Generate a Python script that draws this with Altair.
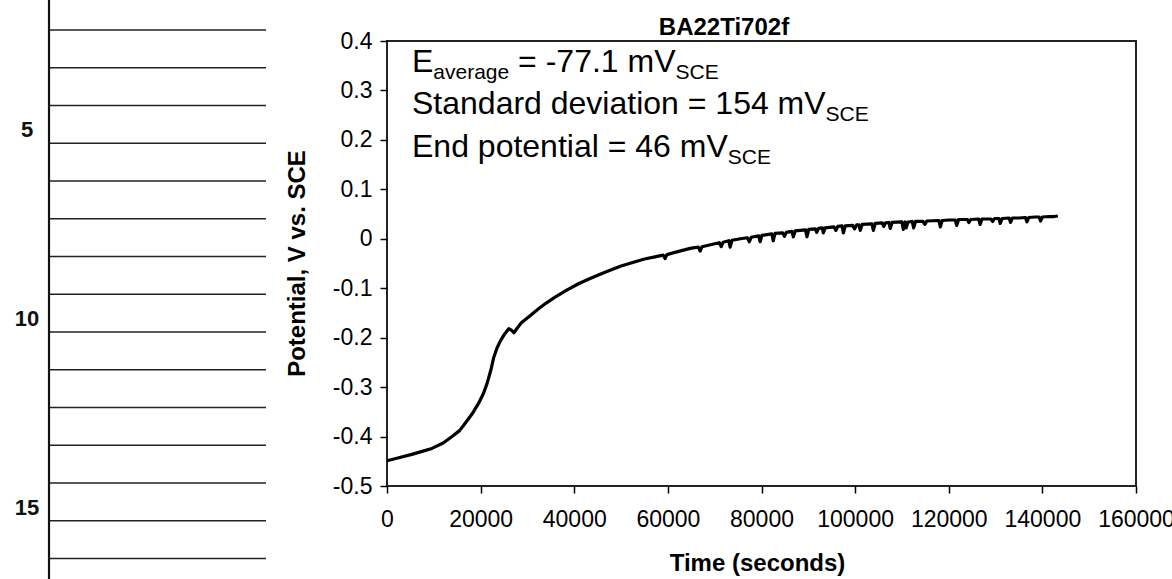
import altair as alt
import pandas as pd

# ---------------- data ----------------
time_s = [
    0, 2500, 5300, 7500, 9600, 12000, 13900, 15500, 16700, 18200,
    19600, 20600, 21400, 22200, 22800, 23500, 24200, 25100, 26000, 26600,
    27100, 27800, 28700, 30500, 32300, 34000, 35900, 38400, 40900, 43500,
    46700, 50000, 52500, 55000, 57500, 59000, 59400, 59800, 62500, 65000,
    66500, 66900, 67300, 70000, 71000, 71400, 71800, 73000, 73300, 73700,
    75500, 77000, 77400, 77800, 79400, 79700, 80100, 82200, 82500, 82900,
    84500, 84900, 85300, 86500, 86800, 87200, 89400, 89700, 90100, 91500,
    91800, 92200, 93000, 93200, 93600, 95500, 95900, 96300, 97200, 97500,
    97900, 99500, 99900, 100300, 100800, 101100, 101500, 103600, 103900, 104300,
    105800, 106100, 106500, 107200, 107500, 107900, 110000, 110300, 110700, 110900,
    111300, 112200, 112500, 112900, 114500, 114900, 115300, 117900, 118200, 118600,
    120000, 121400, 121700, 122100, 124000, 124300, 124700, 126400, 126700, 127100,
    129000, 129400, 129800, 130700, 131000, 131400, 132900, 133200, 133600, 135000,
    136400, 136700, 137100, 138500, 139300, 139600, 140000, 141500, 142500, 143300,
]
potential_v = [
    -0.449, -0.443, -0.436, -0.430, -0.424, -0.413, -0.400, -0.388, -0.373, -0.354,
    -0.332, -0.313, -0.292, -0.265, -0.240, -0.221, -0.207, -0.193, -0.182, -0.185,
    -0.190, -0.181, -0.170, -0.156, -0.142, -0.130, -0.118, -0.104, -0.091, -0.080,
    -0.067, -0.055, -0.048, -0.041, -0.036, -0.033, -0.040, -0.032, -0.025, -0.019,
    -0.017, -0.025, -0.016, -0.010, -0.008, -0.016, -0.007, -0.004, -0.017, -0.003,
    0.000, 0.002, -0.006, 0.003, 0.006, -0.006, 0.007, 0.010, -0.004, 0.011,
    0.012, 0.005, 0.013, 0.015, 0.004, 0.016, 0.018, 0.004, 0.019, 0.020,
    0.013, 0.021, 0.022, 0.012, 0.022, 0.024, 0.017, 0.025, 0.026, 0.012,
    0.026, 0.027, 0.020, 0.028, 0.028, 0.017, 0.029, 0.030, 0.017, 0.031,
    0.032, 0.025, 0.032, 0.033, 0.021, 0.033, 0.034, 0.019, 0.034, 0.022,
    0.034, 0.035, 0.022, 0.035, 0.035, 0.029, 0.036, 0.037, 0.024, 0.037,
    0.038, 0.038, 0.027, 0.039, 0.039, 0.033, 0.039, 0.040, 0.029, 0.040,
    0.040, 0.035, 0.041, 0.041, 0.031, 0.041, 0.042, 0.033, 0.042, 0.042,
    0.043, 0.034, 0.043, 0.044, 0.044, 0.036, 0.044, 0.045, 0.045, 0.046,
]

x_ticks = [0, 20000, 40000, 60000, 80000, 100000, 120000, 140000, 160000]
y_ticks = [-0.5, -0.4, -0.3, -0.2, -0.1, 0.0, 0.1, 0.2, 0.3, 0.4]

chart_title = "BA22Ti702f"
x_title = "Time (seconds)"
y_title = "Potential, V vs. SCE"

# annotation lines: (segment text, is_subscript)
annotation_lines = [
    [("E", False), ("average", True), (" = -77.1 mV", False), ("SCE", True)],
    [("Standard deviation = 154 mV", False), ("SCE", True)],
    [("End potential = 46 mV", False), ("SCE", True)],
]

# notebook margin of the scanned page
rule_numbers = list(range(2, 17))
margin_numbers = [5, 10, 15]

# ---------------- layout ----------------
FONT = "Liberation Sans"
PAD_L, PAD_T = 387, 41
W, H = 749, 445
MAIN_SIZE, SUB_SIZE = 32, 21

ARIAL = {'E': 667, 'a': 556, 'v': 500, 'e': 556, 'r': 333, 'g': 556, '=': 584, ' ': 278,
         '-': 333, '7': 556, '.': 278, '1': 556, 'm': 833, 'V': 667, 'S': 667, 'C': 722,
         't': 278, 'n': 556, 'd': 556, 'i': 222, 'o': 556, '5': 556, '4': 556, 'p': 556,
         'l': 222, '6': 556}


def text_width(s, size):
    return sum(ARIAL.get(c, 556) for c in s) / 1000.0 * size


df = pd.DataFrame({"t": time_s, "v": potential_v})

line = alt.Chart(df).mark_line(color="black", strokeWidth=3.2, strokeJoin="round").encode(
    x=alt.X("t:Q", scale=alt.Scale(domain=[0, 160000], nice=False, zero=False),
            axis=alt.Axis(values=x_ticks, format="d", title=x_title, grid=False, domain=False,
                          labelFont=FONT, labelFontSize=23, labelColor="black",
                          labelPadding=15, labelFlush=False, labelOverlap=False,
                          tickSize=7, tickColor="black", tickWidth=1.5,
                          titleFont=FONT, titleFontSize=24, titleFontWeight="bold",
                          titleColor="black", titleX=370, titleY=84,
                          titleBaseline="alphabetic", titleAlign="center")),
    y=alt.Y("v:Q", scale=alt.Scale(domain=[-0.5, 0.4], nice=False, zero=False),
            axis=alt.Axis(values=y_ticks, title=y_title, grid=False, domain=False,
                          labelExpr="toString(round(datum.value*10)/10)",
                          labelFont=FONT, labelFontSize=23, labelColor="black",
                          labelPadding=8, labelFlush=False, labelOverlap=False,
                          tickSize=7, tickColor="black", tickWidth=1.5,
                          titleFont=FONT, titleFontSize=24, titleFontWeight="bold",
                          titleColor="black", titleX=-90, titleY=222, titleAngle=-90,
                          titleBaseline="middle", titleAlign="center")),
)

layers = [line]

# chart title
layers.append(
    alt.Chart(pd.DataFrame({"s": [chart_title]})).mark_text(
        font=FONT, fontSize=24, fontWeight="bold", color="black",
        align="center", baseline="alphabetic"
    ).encode(x=alt.value(337), y=alt.value(-6), text="s:N")
)

# annotation block with subscripts
baselines = [31, 73, 116]
for segs, base in zip(annotation_lines, baselines):
    cursor = 25.0
    for seg, is_sub in segs:
        size = SUB_SIZE if is_sub else MAIN_SIZE
        lead = len(seg) - len(seg.lstrip())
        draw = seg.lstrip()
        xpos = cursor + text_width(seg[:lead], size)
        cursor += text_width(seg, size)
        layers.append(
            alt.Chart(pd.DataFrame({"s": [draw]})).mark_text(
                font=FONT, fontSize=size, color="black", align="left", baseline="alphabetic"
            ).encode(x=alt.value(xpos), y=alt.value(base + (7 if is_sub else 0)), text="s:N")
        )

# notebook margin decorations
rule_scale = alt.Scale(domain=[2, 16], range=[30 - PAD_T, 30 + 37.75 * 14 - PAD_T])
layers.append(
    alt.Chart(pd.DataFrame({"rule": rule_numbers})).mark_rule(color="#222", strokeWidth=1.4).encode(
        y=alt.Y("rule:Q", scale=rule_scale, axis=None),
        x=alt.value(50 - PAD_L), x2=alt.value(266 - PAD_L),
    )
)
layers.append(
    alt.Chart(pd.DataFrame({"n": margin_numbers})).mark_text(
        font=FONT, fontSize=22, fontWeight="bold", color="#111", align="center",
        baseline="alphabetic", dy=-6
    ).encode(
        y=alt.Y("n:Q", scale=rule_scale, axis=None),
        x=alt.value(27 - PAD_L), text="n:N",
    )
)
layers.append(
    alt.Chart(pd.DataFrame({"n": [1]})).mark_rule(color="#111", strokeWidth=2.2).encode(
        x=alt.value(49 - PAD_L), y=alt.value(-PAD_T), y2=alt.value(579 - PAD_T)
    )
)

chart = alt.layer(*layers).resolve_scale(y="independent").properties(
    width=W, height=H,
    padding={"left": PAD_L, "top": PAD_T, "right": 1172 - PAD_L - W, "bottom": 579 - PAD_T - H},
    autosize=alt.AutoSizeParams(type="none"),
    background="white",
).configure_view(stroke="#222", strokeWidth=2)

chart.save("out.html", embed_options={"renderer": "svg", "actions": False})
